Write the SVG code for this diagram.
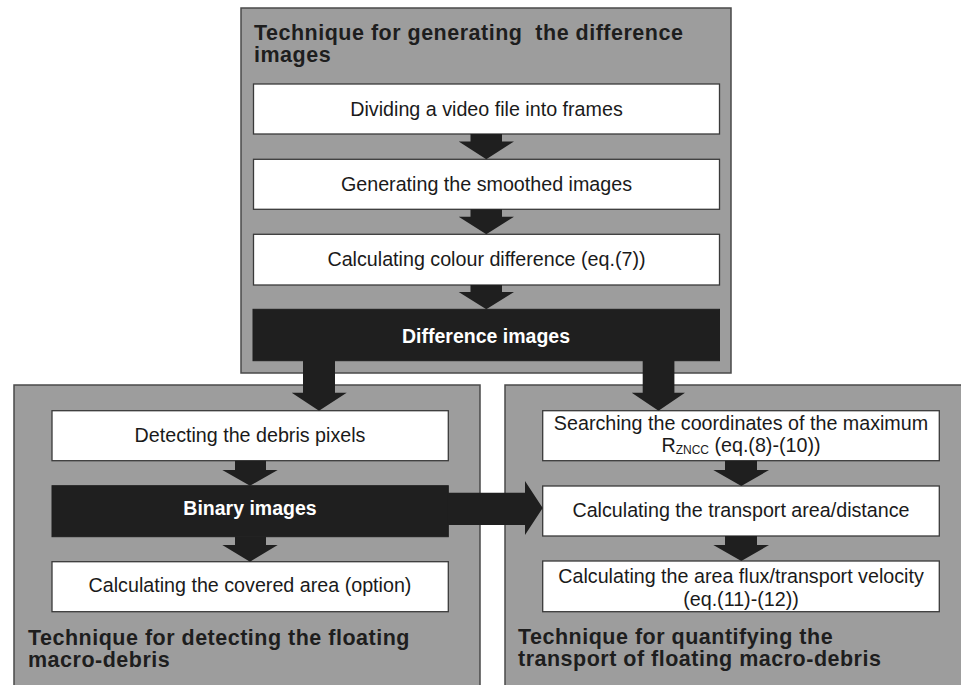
<svg xmlns="http://www.w3.org/2000/svg" width="961" height="685" viewBox="0 0 961 685">
<style>
.panel{fill:#9d9d9d;stroke:#4a4a4a;stroke-width:1.5}
.box{fill:#ffffff;stroke:#3a3a3a;stroke-width:1.3}
.dark{fill:#1f1f1f;stroke:#1f1f1f;stroke-width:1}
.arrow{fill:#1f1f1f}
.t{font-family:"Liberation Sans",Arial,Helvetica,sans-serif;font-size:19.7px;fill:#1a1a1a;text-anchor:middle}
.tw{font-family:"Liberation Sans",Arial,Helvetica,sans-serif;font-size:19.5px;font-weight:bold;fill:#ffffff;text-anchor:middle}
.title{font-family:"Liberation Sans",Arial,Helvetica,sans-serif;font-size:21.5px;font-weight:bold;letter-spacing:0.5px;fill:#1e1e1e}
</style>
<rect width="961" height="685" fill="#ffffff"/>

<g id="panel-top">
<rect class="panel" x="241" y="8" width="490" height="365"/>
<text class="title" x="254" y="39.5" xml:space="preserve">Technique for generating  the difference</text>
<text class="title" x="254" y="61.5">images</text>
</g>
<g id="panel-left">
<rect class="panel" x="14" y="385" width="466" height="320"/>
<text class="title" x="28" y="645">Technique for detecting the floating</text>
<text class="title" x="28" y="667">macro-debris</text>
</g>
<g id="panel-right">
<rect class="panel" x="505" y="385" width="480" height="320"/>
<text class="title" x="518" y="644">Technique for quantifying the</text>
<text class="title" x="518" y="666">transport of floating macro-debris</text>
</g>

<g id="n-dividing">
<rect class="box" x="253.5" y="84" width="466" height="50"/>
<text class="t" x="486.5" y="115.5">Dividing a video file into frames</text>
</g>
<g id="n-smoothed">
<rect class="box" x="253.5" y="159.3" width="466" height="50"/>
<text class="t" x="486.5" y="190.5">Generating the smoothed images</text>
</g>
<g id="n-colour">
<rect class="box" x="253.5" y="234.3" width="466" height="50.7"/>
<text class="t" x="486.5" y="265.8">Calculating colour difference (eq.(7))</text>
</g>
<g id="n-difference">
<rect class="dark" x="253" y="309.3" width="466.5" height="51.4"/>
<text class="tw" x="486" y="342.5">Difference images</text>
</g>

<g id="n-debris">
<rect class="box" x="52" y="410.7" width="396.3" height="50"/>
<text class="t" x="250" y="441.5">Detecting the debris pixels</text>
</g>
<g id="n-binary">
<rect class="dark" x="52" y="485.7" width="396.3" height="51"/>
<text class="tw" x="250" y="514.5">Binary images</text>
</g>
<g id="n-covered">
<rect class="box" x="52" y="561.7" width="396.3" height="50"/>
<text class="t" x="250" y="592">Calculating the covered area (option)</text>
</g>

<g id="n-searching">
<rect class="box" x="542.7" y="410.7" width="396.6" height="50"/>
<text class="t" x="741" y="430">Searching the coordinates of the maximum</text>
<text class="t" x="741" y="452">R<tspan font-size="12" dy="2">ZNCC</tspan><tspan dy="-2"> (eq.(8)-(10))</tspan></text>
</g>
<g id="n-transport">
<rect class="box" x="542.7" y="486" width="396.6" height="50"/>
<text class="t" x="741" y="517">Calculating the transport area/distance</text>
</g>
<g id="n-flux">
<rect class="box" x="542.7" y="561" width="396.6" height="50.7"/>
<text class="t" x="741" y="583">Calculating the area flux/transport velocity</text>
<text class="t" x="741" y="605.5">(eq.(11)-(12))</text>
</g>

<g id="connectors">
<polygon class="arrow" points="470.5,134 502,134 502,141.5 514,141.5 486.3,159.3 458.7,141.5 470.5,141.5"/>
<polygon class="arrow" points="470.5,209.3 502,209.3 502,216.8 514,216.8 486.3,234.3 458.7,216.8 470.5,216.8"/>
<polygon class="arrow" points="470.5,285 502,285 502,292 514,292 486.3,309.3 458.7,292 470.5,292"/>
<polygon class="arrow" points="303,360 335,360 335,392.7 346.7,392.7 319,410.7 291.7,392.7 303,392.7"/>
<polygon class="arrow" points="642.7,360 674.4,360 674.4,392.7 685,392.7 658.5,410.7 631.7,392.7 642.7,392.7"/>
<polygon class="arrow" points="235,460.7 266,460.7 266,470 277.7,470 250,485.7 222.3,470 235,470"/>
<polygon class="arrow" points="235,536.7 266,536.7 266,545 277.7,545 250,561.7 222.3,545 235,545"/>
<polygon class="arrow" points="448,492.7 525,492.7 525,481 542.7,508 525,535 525,525 448,525"/>
<polygon class="arrow" points="725,460.7 757,460.7 757,470 769,470 741.3,486 713.3,470 725,470"/>
<polygon class="arrow" points="725,536 757,536 757,545 769,545 741.3,561 713.3,545 725,545"/>
</g>
</svg>
